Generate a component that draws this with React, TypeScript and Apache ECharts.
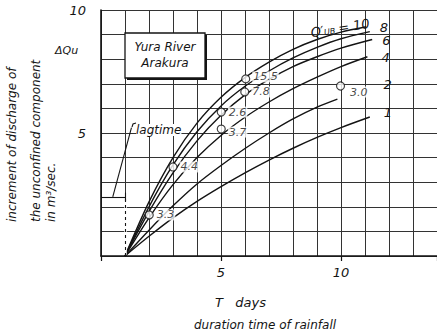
import React, { useEffect, useRef } from "react";
import * as echarts from "echarts";

// Increment of unconfined discharge vs. rainfall duration, one curve per Q'ub
const curve10 = [[1, 0], [2, 2.2], [3, 4.0], [4, 5.4], [5, 6.45], [6, 7.25], [7, 7.88], [8, 8.4], [9, 8.8], [10, 9.1], [11.05, 9.32]];
const curve8 = [[1, 0], [2, 2.0], [3, 3.7], [4, 5.05], [5, 6.1], [6, 6.9], [7, 7.52], [8, 8.05], [9, 8.48], [10, 8.83], [11.2, 9.12]];
const curve6 = [[1, 0], [2, 1.8], [3, 3.38], [4, 4.68], [5, 5.72], [6, 6.55], [7, 7.18], [8, 7.7], [9, 8.1], [10, 8.45], [11.3, 8.8]];
const curve4 = [[1, 0], [2, 1.55], [3, 2.9], [4, 4.0], [5, 4.9], [6, 5.64], [7, 6.26], [8, 6.8], [9, 7.27], [10, 7.7], [11.1, 8.1]];
const curve2 = [[1, 0], [2, 1.05], [3, 2.04], [4, 2.93], [5, 3.68], [6, 4.37], [7, 5.0], [8, 5.57], [9, 6.05], [9.85, 6.38]];
const curve1 = [[1, 0], [2, 0.8], [3, 1.55], [4, 2.22], [5, 2.82], [6, 3.38], [7, 3.9], [8, 4.38], [9, 4.82], [10, 5.22], [11.2, 5.65]];
const curveTags = ["10", "8", "6", "4", "2", "1"];

// Observed events: duration (days), increment, and the Q'ub of the event
const obsT = [6.03, 5.99, 5.01, 5.01, 9.98, 3.0, 2.01];
const obsQu = [7.2, 6.67, 5.85, 5.16, 6.91, 3.62, 1.67];
const obsQub = ["15.5", "7.8", "2.6", "3.7", "3.0", "4.4", "3.3"];

const lagTime = 1; // days
const xTickLabels = [5, 10];
const yTickLabels = [5, 10];

const FONT = "DejaVu Sans";
const INK = "#141414";

export default function App() {
  const ref = useRef<HTMLDivElement>(null);

  useEffect(() => {
    document.body.style.margin = "0";
    if (!ref.current) return;
    const chart = echarts.init(ref.current, undefined, { renderer: "svg" });
    const curves = [curve10, curve8, curve6, curve4, curve2, curve1];

    const endLabelOffsets: Record<string, number[]> = {
      "10": [0, 0],
      "8": [2, -4],
      "6": [2, 1],
      "4": [6, 1],
      "2": [38, -15],
      "1": [6, -5],
    };

    const lineSeries = curves.map((c, i) => {
      const tag = curveTags[i];
      return {
        type: "line",
        data: c,
        smooth: 0.3,
        showSymbol: false,
        silent: true,
        z: 3,
        lineStyle: { color: INK, width: 1.4 },
        endLabel: {
          show: tag !== "10",
          formatter: tag,
          color: INK,
          fontFamily: FONT,
          fontStyle: "italic",
          fontSize: 13,
          offset: endLabelOffsets[tag],
        },
      };
    });

    chart.setOption({
      animation: false,
      grid: { left: 101, right: -5, top: 10, bottom: 77, containLabel: false },
      xAxis: [
        {
          type: "value",
          min: 0,
          max: 14,
          interval: 1,
          axisLine: { show: true, lineStyle: { color: INK, width: 1.6 } },
          axisTick: { show: false },
          splitLine: { show: true, lineStyle: { color: "#333", width: 1 } },
          axisLabel: {
            margin: 10,
            color: INK,
            fontFamily: FONT,
            fontStyle: "italic",
            fontSize: 13,
            showMaxLabel: false,
            formatter: (v: number) => (xTickLabels.includes(v) ? String(v) : ""),
          },
        },
        {
          type: "value",
          position: "bottom",
          min: 0,
          max: 14,
          interval: 5,
          axisLine: { show: false },
          axisTick: { show: true, length: 5, lineStyle: { color: INK, width: 1.2 } },
          splitLine: { show: false },
          axisLabel: { show: false },
        },
      ],
      yAxis: {
        type: "value",
        min: 0,
        max: 10,
        interval: 1,
        axisLine: { show: true, lineStyle: { color: INK, width: 1.6 } },
        axisTick: { show: false },
        splitLine: { show: true, lineStyle: { color: "#333", width: 1 } },
        axisLabel: {
          margin: 15,
          color: INK,
          fontFamily: FONT,
          fontStyle: "italic",
          fontSize: 13,
          formatter: (v: number) => (yTickLabels.includes(v) ? String(v) : ""),
        },
      },
      series: [
        {
          // lag-time construction lines (under the curves)
          type: "line",
          data: [],
          silent: true,
          z: 2,
          markLine: {
            silent: true,
            symbol: "none",
            label: { show: false },
            lineStyle: { color: INK, width: 1.1, type: "solid" },
            data: [
              [
                { coord: [lagTime, 0.05], lineStyle: { type: "solid", color: "#fff", width: 2.5 } },
                { coord: [lagTime, 2.4] },
              ],
              [
                { coord: [lagTime, 0], lineStyle: { type: [3, 3], color: INK, width: 1.1 } },
                { coord: [lagTime, 2.4] },
              ],
              [{ coord: [0, 2.4] }, { coord: [lagTime, 2.4] }],
              [{ coord: [0.49, 2.4] }, { coord: [1.27, 5.22] }],
              [{ coord: [lagTime, 2.22] }, { coord: [lagTime, 2.58] }],
            ],
          },
        },
        ...lineSeries,
        {
          type: "scatter",
          z: 5,
          symbol: "circle",
          symbolSize: 8,
          itemStyle: { color: "#fff", borderColor: INK, borderWidth: 1.2 },
          data: obsT.map((t, i) => ({
            value: [t, obsQu[i]],
            label: {
              show: true,
              position: "right",
              distance: 2,
              formatter: obsQub[i],
              offset: obsQub[i] === "3.0" ? [2, 6] : obsQub[i] === "15.5" ? [0, -2] : obsQub[i] === "3.7" ? [0, 3] : [0, 0],
            },
          })),
          label: {
            color: INK,
            fontFamily: FONT,
            fontStyle: "italic",
            fontSize: 11,
            backgroundColor: "#fff",
            padding: [0, 1],
          },
        },
      ],
      graphic: [
        {
          type: "text",
          x: 12,
          y: 222,
          rotation: Math.PI / 2,
          style: {
            text: "increment of discharge of",
            fill: INK,
            font: `italic 12px "${FONT}"`,
            align: "left",
            verticalAlign: "middle",
          },
        },
        {
          type: "text",
          x: 36,
          y: 222,
          rotation: Math.PI / 2,
          style: {
            text: "the unconfined component",
            fill: INK,
            font: `italic 12px "${FONT}"`,
            align: "left",
            verticalAlign: "middle",
          },
        },
        {
          type: "text",
          x: 51,
          y: 222,
          rotation: Math.PI / 2,
          style: {
            text: "in m³/sec.",
            fill: INK,
            font: `italic 12px "${FONT}"`,
            align: "left",
            verticalAlign: "middle",
          },
        },
        {
          type: "text",
          x: 55,
          y: 50,
          style: {
            text: "ΔQu",
            fill: INK,
            font: `italic 11px "${FONT}"`,
            align: "left",
            verticalAlign: "middle",
          },
        },
        {
          type: "rect",
          z: 10,
          shape: { x: 127, y: 35, width: 80, height: 45 },
          style: { fill: INK },
        },
        {
          type: "rect",
          z: 11,
          shape: { x: 125, y: 33, width: 80, height: 45 },
          style: { fill: "#fff", stroke: INK, lineWidth: 1.3 },
        },
        {
          type: "text",
          z: 12,
          x: 165,
          y: 47,
          style: {
            text: "Yura River",
            fill: INK,
            font: `italic 12px "${FONT}"`,
            align: "center",
            verticalAlign: "middle",
          },
        },
        {
          type: "text",
          z: 12,
          x: 165,
          y: 63,
          style: {
            text: "Arakura",
            fill: INK,
            font: `italic 12px "${FONT}"`,
            align: "center",
            verticalAlign: "middle",
          },
        },
        {
          type: "text",
          z: 12,
          x: 136,
          y: 130,
          style: {
            text: "lagtime",
            fill: INK,
            font: `italic 12px "${FONT}"`,
            align: "left",
            verticalAlign: "middle",
            backgroundColor: "#fff",
          },
        },
        {
          type: "polyline",
          z: 12,
          shape: { points: [[132, 127], [133, 124], [136, 123]] },
          style: { stroke: INK, lineWidth: 1.1, fill: "none" },
        },
        {
          type: "text",
          z: 12,
          x: 340,
          y: 28,
          rotation: 0.16,
          style: {
            text: "{q|Q′}{s|UB} {q|= 10}",
            align: "center",
            verticalAlign: "middle",
            rich: {
              q: { fontFamily: FONT, fontStyle: "italic", fontSize: 13, fill: INK },
              s: { fontFamily: FONT, fontStyle: "italic", fontSize: 8, fill: INK, padding: [4, 0, 0, 0] },
            },
          },
        },
        {
          type: "text",
          x: 215,
          y: 302,
          style: {
            text: "T   days",
            fill: INK,
            font: `italic 13px "${FONT}"`,
            align: "left",
            verticalAlign: "middle",
          },
        },
        {
          type: "text",
          x: 265,
          y: 325,
          style: {
            text: "duration time of rainfall",
            fill: INK,
            font: `italic 12px "${FONT}"`,
            align: "center",
            verticalAlign: "middle",
          },
        },
      ],
    });

    return () => chart.dispose();
  }, []);

  return <div ref={ref} style={{ width: 437, height: 333 }} />;
}
